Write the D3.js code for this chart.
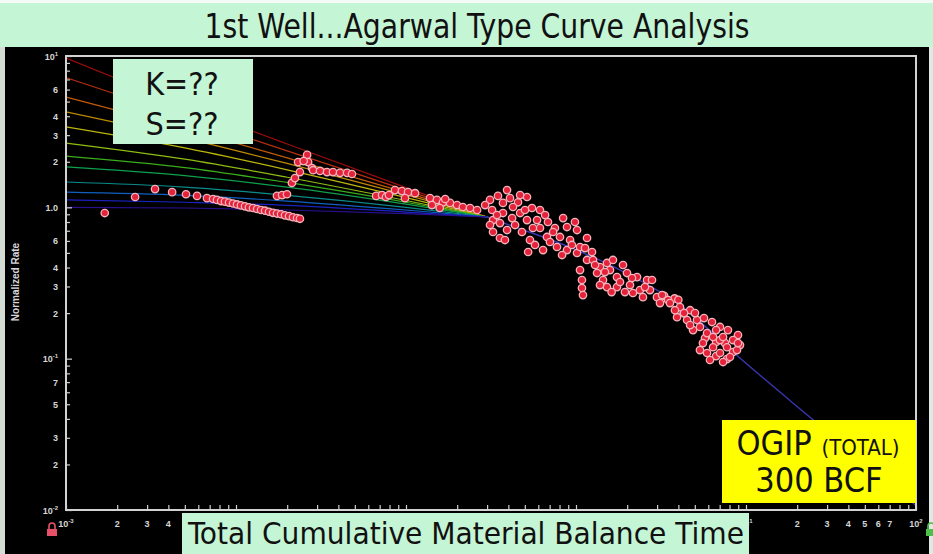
<!DOCTYPE html>
<html lang="en">
<head>
<meta charset="UTF-8" />
<title>1st Well...Agarwal Type Curve Analysis</title>
<script src="https://d3js.org/d3.v7.min.js"></script>
<style>
    html, body { margin: 0; padding: 0; background: #000; }
    svg { display: block; }
    .tick-label { font: bold 9px "Liberation Sans", Arial, sans-serif; fill: #d6d6d6; }
    .banner { font-family: "DejaVu Sans Condensed", "DejaVu Sans", sans-serif; fill: #111; }
</style>
</head>
<body>
<div id="chart"></div>
<script>
// axis ranges
var xDomain = [0.001, 100];
var yDomain = [0.01, 10];

// tick labels ("^" marks an exponent)
var xLabelValues = [0.001, 0.002, 0.003, 0.004, 10, 20, 30, 40, 50, 60, 70, 100];
var xLabelTexts  = ["10^-3", "2", "3", "4", "10^1", "2", "3", "4", "5", "6", "7", "10^2"];
var yLabelValues = [0.01, 0.02, 0.03, 0.05, 0.07, 0.1, 0.2, 0.3, 0.4, 0.6, 1, 2, 3, 4, 6, 10];
var yLabelTexts  = ["10^-2", "2", "3", "5", "7", "10^-1", "2", "3", "4", "6", "1.0", "2", "3", "4", "6", "10^1"];

// transient type curve stems, all read at the same times
var stemTime = [0.001, 0.005, 0.02, 0.1, 0.3];
var stemRates = [
    [9.7, 4.71, 2.62, 1.35, 0.863],
    [7.2, 3.95, 2.36, 1.30, 0.863],
    [5.36, 3.31, 2.12, 1.25, 0.863],
    [4.27, 2.87, 1.95, 1.21, 0.863],
    [3.40, 2.47, 1.77, 1.16, 0.863],
    [2.66, 2.08, 1.58, 1.11, 0.863],
    [2.18, 1.83, 1.46, 1.08, 0.863],
    [1.85, 1.62, 1.36, 1.05, 0.863],
    [1.47, 1.36, 1.20, 1.00, 0.863],
    [1.26, 1.20, 1.10, 0.96, 0.863],
    [1.12, 1.08, 1.03, 0.93, 0.863],
    [1.00, 0.99, 0.96, 0.91, 0.863]
];
var stemColors = ["#9a0c0c", "#b8300e", "#c25a08", "#c08a06", "#bdb80a", "#8fbd12",
                  "#3aae1a", "#0ea04c", "#0a8c8c", "#1060c0", "#1a22c0", "#2a1090"];

// boundary dominated stem
var depTime = [0.3, 0.41, 0.77, 1.82, 4.1, 9.2, 23.8, 100];
var depRate = [0.863, 0.76, 0.59, 0.385, 0.226, 0.101, 0.041, 0.0107];

// well data: material balance time, normalized rate
var dataTime = [
    0.00169, 0.00255, 0.00334, 0.00421, 0.00508, 0.00590, 0.00675,
    0.00733, 0.00773, 0.00817, 0.00861, 0.00910, 0.00960, 0.01014, 0.01069, 0.01130, 0.01191,
    0.01259, 0.01330, 0.01403, 0.01483, 0.01563, 0.01652, 0.01742, 0.01841, 0.01941, 0.02051,
    0.02163, 0.02286, 0.02377,
    0.01742, 0.01866, 0.01995, 0.02133, 0.02223, 0.02377, 0.02317, 0.02620, 0.02656, 0.02500, 0.02799,
    0.0284, 0.0312, 0.0343, 0.0372, 0.0409, 0.0450, 0.0481,
    0.0667, 0.0723, 0.0762, 0.0794, 0.0861, 0.0946, 0.1028, 0.1130, 0.0986,
    0.1384, 0.152, 0.142, 0.165, 0.1815, 0.1995, 0.216, 0.238, 0.262, 0.158, 0.170,
    0.393, 0.312, 0.515, 0.456, 0.372, 0.321, 0.372, 0.469, 0.551, 0.614, 0.325, 0.357, 0.393,
    0.325, 0.515, 0.590, 0.614, 0.481, 0.536, 0.675, 0.523, 0.640, 0.703, 0.840, 0.885, 1.014,
    0.805, 0.923, 1.161, 0.773, 0.885, 1.014, 1.056, 1.242, 1.161, 0.343, 0.421, 0.426, 0.558,
    0.658, 0.752, 0.357,
    0.3475, 0.409, 0.292, 0.438, 0.501, 0.684, 0.733, 0.574, 0.828, 0.946, 1.13, 0.986, 0.382,
    0.312, 0.469,
    1.056, 1.084, 1.084, 1.099,
    1.259, 1.384, 1.521, 1.330, 1.585, 1.89, 1.442, 1.742, 1.995, 2.286, 2.618, 2.078, 2.377,
    2.723, 2.994, 3.119, 2.477, 2.163, 1.742, 1.521, 3.3, 3.8, 4.3, 4.0,
    1.294, 1.48, 1.65, 1.815, 2.135, 2.545, 2.80, 3.21, 3.48, 1.94, 1.62, 1.384,
    3.57, 4.09, 4.69, 3.93, 4.50, 5.15, 5.36, 4.88,
    3.82, 4.32, 5.01, 5.66, 6.31, 7.83, 8.97, 9.22, 6.67, 7.52, 5.36, 8.39, 6.67, 7.73, 5.74, 7.03, 4.69,
    7.03, 5.90, 6.40, 7.33, 8.39, 5.58, 6.40, 7.73, 8.85, 5.90, 7.03, 8.05, 6.14, 7.33, 6.67, 8.97
];
var dataRate = [
    0.917, 1.17, 1.32, 1.26, 1.22, 1.19, 1.15,
    1.135, 1.12, 1.10, 1.09, 1.075, 1.06, 1.045, 1.03, 1.015, 1.00,
    0.99, 0.975, 0.96, 0.95, 0.935, 0.92, 0.91, 0.90, 0.885, 0.875,
    0.86, 0.85, 0.84,
    1.19, 1.205, 1.22, 1.45, 1.56, 1.71, 1.99, 2.22, 1.99, 2.02, 1.82,
    1.76, 1.74, 1.71, 1.71, 1.69, 1.69, 1.66,
    1.19, 1.205, 1.17, 1.205, 1.30, 1.28, 1.26, 1.24, 1.15,
    1.15, 1.12, 1.035, 1.08, 1.07, 1.035, 1.005, 0.99, 0.96, 0.99, 1.135,
    1.30, 1.12, 1.17, 1.08, 1.07, 0.96, 0.917, 0.917, 0.99, 0.96, 0.824, 0.787, 0.708,
    0.687, 0.824, 0.824, 0.730, 0.687, 0.608, 0.637, 0.507, 0.522, 0.590, 0.849, 0.741, 0.708,
    0.637, 0.608, 0.627, 0.547, 0.522, 0.499, 0.547, 0.507, 0.449, 0.889, 0.849, 1.005, 0.730,
    0.889, 0.730, 0.627,
    1.19, 1.15, 1.035, 0.764, 0.96, 0.80, 0.687, 0.564, 0.484, 0.564, 0.538, 0.80, 0.608,
    0.764, 1.205,
    0.385, 0.331, 0.293, 0.263,
    0.449, 0.403, 0.429, 0.368, 0.385, 0.416, 0.331, 0.346, 0.368, 0.346, 0.331, 0.3065, 0.284,
    0.284, 0.255, 0.233, 0.255, 0.2715, 0.297, 0.297, 0.26, 0.25, 0.20, 0.245,
    0.416, 0.3735, 0.449, 0.321, 0.341, 0.297, 0.331, 0.263, 0.244, 0.2755, 0.2755, 0.3065,
    0.233, 0.219, 0.209, 0.188, 0.180, 0.180, 0.162, 0.1545,
    0.209, 0.200, 0.200, 0.1854, 0.1746, 0.1545, 0.1432, 0.123, 0.1288, 0.1268, 0.114, 0.1106, 0.104, 0.0994, 0.1368, 0.1327, 0.1667,
    0.162, 0.1476, 0.139, 0.139, 0.1327, 0.1268, 0.119, 0.119, 0.114, 0.109, 0.109, 0.1025, 0.098, 0.095, 0.1545, 0.1268
];

var width = 933, height = 554;
var plot = { left: 66, right: 916, top: 56, bottom: 510 };

var svg = d3.select("#chart").append("svg")
    .attr("width", width)
    .attr("height", height);

// slide background
svg.append("rect").attr("width", width).attr("height", height).attr("fill", "#000");
svg.append("rect").attr("x", 0).attr("y", 47).attr("width", 5).attr("height", height - 47).attr("fill", "#d4dcd4");
svg.append("rect").attr("x", 929).attr("y", 47).attr("width", 4).attr("height", height - 47).attr("fill", "#e2e8e2");
svg.append("rect").attr("x", 0).attr("y", 0).attr("width", width).attr("height", 47).attr("fill", "#c4f5d4");
svg.append("rect").attr("x", 0).attr("y", 0).attr("width", width).attr("height", 3).attr("fill", "#f4fbf6");

svg.append("text")
    .attr("class", "banner")
    .attr("x", 477).attr("y", 38)
    .attr("text-anchor", "middle")
    .attr("font-size", 33)
    .attr("textLength", 545)
    .attr("lengthAdjust", "spacingAndGlyphs")
    .text("1st Well...Agarwal Type Curve Analysis");

var x = d3.scaleLog().domain(xDomain).range([plot.left, plot.right]);
var y = d3.scaleLog().domain(yDomain).range([plot.bottom, plot.top]);

// every 1..9 tick per decade
function decadeTicks(domain) {
    var out = [];
    for (var e = Math.round(Math.log10(domain[0])); e <= Math.round(Math.log10(domain[1])); e++) {
        for (var m = 1; m <= 9; m++) {
            var v = m * Math.pow(10, e);
            if (v <= domain[1] * 1.0001) out.push(v);
        }
    }
    return out;
}

function writeLabel(sel, str) {
    var parts = str.split("^");
    sel.text(parts[0]);
    if (parts.length > 1) {
        sel.append("tspan").attr("dy", -4).attr("font-size", 6).text(parts[1]);
    }
}

svg.append("clipPath").attr("id", "plot-clip")
    .append("rect")
    .attr("x", plot.left).attr("y", plot.top)
    .attr("width", plot.right - plot.left).attr("height", plot.bottom - plot.top);

var g = svg.append("g").attr("clip-path", "url(#plot-clip)");

var line = d3.line()
    .x(function(d) { return x(d[0]); })
    .y(function(d) { return y(d[1]); })
    .curve(d3.curveMonotoneX);

// transient stems
stemRates.forEach(function(rates, i) {
    g.append("path")
        .datum(stemTime.map(function(t, j) { return [t, rates[j]]; }))
        .attr("d", line)
        .attr("fill", "none")
        .attr("stroke", stemColors[i])
        .attr("stroke-width", 1.2);
});

// depletion stem
g.append("path")
    .datum(depTime.map(function(t, j) { return [t, depRate[j]]; }))
    .attr("d", line)
    .attr("fill", "none")
    .attr("stroke", "#3a36b0")
    .attr("stroke-width", 1.4);

// data points
g.selectAll("circle.pt")
    .data(dataTime.map(function(t, i) { return [t, dataRate[i]]; }))
    .enter()
    .append("circle")
    .attr("class", "pt")
    .attr("cx", function(d) { return x(d[0]); })
    .attr("cy", function(d) { return y(d[1]); })
    .attr("r", 3.7)
    .attr("fill", "#e4233a")
    .attr("stroke", "#f6b4bd")
    .attr("stroke-width", 1.3);

// axes, ticks pointing into the plot
var xAxis = d3.axisBottom(x).tickValues(decadeTicks(xDomain))
    .tickSize(-5).tickFormat("");
var yAxis = d3.axisLeft(y).tickValues(decadeTicks(yDomain))
    .tickSize(-6).tickFormat("");

var gx = svg.append("g").attr("transform", "translate(0," + plot.bottom + ")").call(xAxis);
var gy = svg.append("g").attr("transform", "translate(" + plot.left + ",0)").call(yAxis);
[gx, gy].forEach(function(a) {
    a.select(".domain").remove();
    a.selectAll("line").attr("stroke", "#cfcfcf").attr("stroke-width", 1.2);
});
gy.selectAll(".tick").filter(function(d) { return Math.abs(Math.log10(d) % 1) > 1e-6; })
    .select("line").attr("x2", 4);

// tick labels
xLabelValues.forEach(function(v, i) {
    writeLabel(svg.append("text").attr("class", "tick-label")
        .attr("x", x(v)).attr("y", 527).attr("text-anchor", "middle"), xLabelTexts[i]);
});
yLabelValues.forEach(function(v, i) {
    writeLabel(svg.append("text").attr("class", "tick-label")
        .attr("x", 58).attr("y", y(v) + 3.5).attr("text-anchor", "end"), yLabelTexts[i]);
});

// plot frame
svg.append("rect")
    .attr("x", plot.left).attr("y", plot.top)
    .attr("width", plot.right - plot.left).attr("height", plot.bottom - plot.top)
    .attr("fill", "none").attr("stroke", "#d2d2d2").attr("stroke-width", 2);

svg.append("text")
    .attr("transform", "translate(19,282) rotate(-90)")
    .attr("text-anchor", "middle")
    .style("font", "bold 10px 'Liberation Sans', Arial, sans-serif")
    .attr("fill", "#d6d6d6")
    .text("Normalized Rate");

// lock icons on the axis corners
function lockIcon(cx, cy, color) {
    svg.append("path")
        .attr("d", "M" + (cx - 3) + "," + (cy - 2) + " v-3 a3,3 0 0 1 6,0 v3")
        .attr("fill", "none").attr("stroke", color).attr("stroke-width", 1.6);
    svg.append("rect").attr("x", cx - 5).attr("y", cy - 2).attr("width", 10).attr("height", 7)
        .attr("fill", color);
}
lockIcon(52, 531, "#e8506a");
lockIcon(931, 531, "#4cc04c");

// annotation boxes
svg.append("rect").attr("x", 113).attr("y", 59).attr("width", 140).attr("height", 85).attr("fill", "#c4f5d4");
svg.append("text").attr("class", "banner").attr("x", 182).attr("y", 95)
    .attr("text-anchor", "middle").attr("font-size", 32).text("K=??");
svg.append("text").attr("class", "banner").attr("x", 182).attr("y", 135)
    .attr("text-anchor", "middle").attr("font-size", 32).text("S=??");

svg.append("rect").attr("x", 722).attr("y", 420).attr("width", 194).attr("height", 83).attr("fill", "#ffff00");
var ogip = svg.append("text").attr("class", "banner").attr("x", 818).attr("y", 455)
    .attr("text-anchor", "middle");
ogip.append("tspan").attr("font-size", 34).text("OGIP ");
ogip.append("tspan").attr("font-size", 22).text("(TOTAL)");
svg.append("text").attr("class", "banner").attr("x", 819).attr("y", 492)
    .attr("text-anchor", "middle").attr("font-size", 34).text("300 BCF");

svg.append("rect").attr("x", 182).attr("y", 513).attr("width", 567).attr("height", 41).attr("fill", "#c4f5d4");
svg.append("text").attr("class", "banner").attr("x", 466).attr("y", 544)
    .attr("text-anchor", "middle").attr("font-size", 30)
    .attr("textLength", 556).attr("lengthAdjust", "spacingAndGlyphs")
    .text("Total Cumulative Material Balance Time");
</script>
</body>
</html>
